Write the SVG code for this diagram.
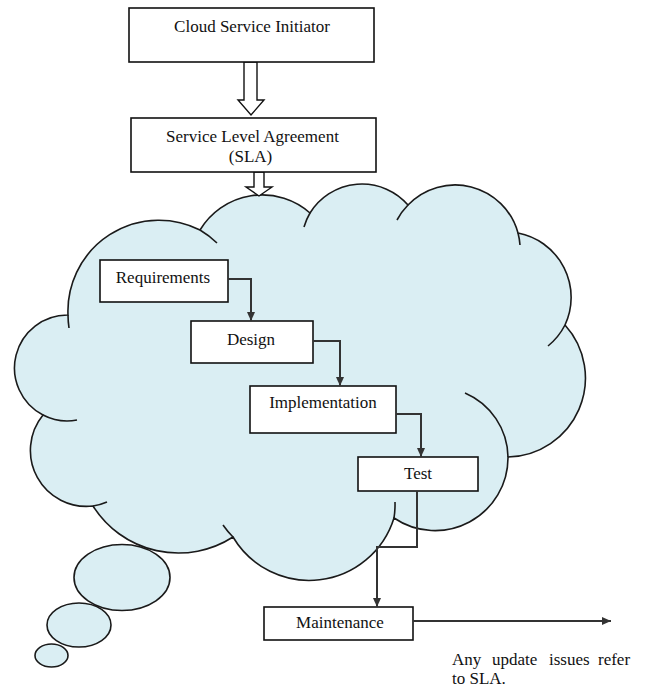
<svg xmlns="http://www.w3.org/2000/svg" width="645" height="688" viewBox="0 0 645 688">
  <style>
    .box { fill: #ffffff; stroke: #111111; stroke-width: 1.6; }
    .block { fill: #ffffff; stroke: #111111; stroke-width: 1.4; stroke-linejoin: miter; }
    .cloud { fill: #DAEEF3; stroke: #1a1a1a; stroke-width: 1.6; }
    .tail { fill: none; stroke: #1a1a1a; stroke-width: 1.6; }
    .label { font-family: "Liberation Serif", "Times New Roman", serif; font-size: 17px; fill: #111111; text-anchor: middle; }
    .note { font-family: "Liberation Serif", "Times New Roman", serif; font-size: 17px; fill: #111111; }
    .conn { fill: none; stroke: #333333; stroke-width: 2; }
  </style>
  <defs>
    <marker id="arrow" markerUnits="userSpaceOnUse" markerWidth="10" markerHeight="10" refX="9" refY="5" orient="auto">
      <path d="M0,1 L9,5 L0,9 z" fill="#333333"/>
    </marker>
  </defs>

  <!-- cloud body -->
  <g id="cloud">
    <path class="cloud" d="M43,415 A53,53 0 0 1 68,315 A91,91 0 0 1 200,230 A72.5,72.5 0 0 1 310,213 A61,61 0 0 1 408,205 A65.2,65.2 0 0 1 518,233 A65.5,65.5 0 0 1 565,325 A79,79 0 0 1 508,457 A73,73 0 0 1 394,518 A88.7,88.7 0 0 1 233,537 A101,101 0 0 1 93,506 A56,56 0 0 1 43,415 Z"/>
    <path class="tail" d="M68,315 A91,91 0 0 0 69,328"/>
    <path class="tail" d="M200,230 A91,91 0 0 1 217,243"/>
    <path class="tail" d="M310,213 A61,61 0 0 0 304,227"/>
    <path class="tail" d="M408,205 A65.2,65.2 0 0 0 397,220"/>
    <path class="tail" d="M518,233 A65.2,65.2 0 0 1 520,245"/>
    <path class="tail" d="M565,325 A65.5,65.5 0 0 1 548,346"/>
    <path class="tail" d="M508,457 A71,71 0 0 0 465,393"/>
    <path class="tail" d="M394,518 A88.7,88.7 0 0 0 395,502"/>
    <path class="tail" d="M233,537 A88.7,88.7 0 0 1 223,525"/>
    <path class="tail" d="M93,506 A56,56 0 0 0 107,502"/>
    <path class="tail" d="M43,415 A53,53 0 0 0 77,420"/>
    <ellipse class="cloud" cx="122" cy="577.5" rx="48" ry="33"/>
    <ellipse class="cloud" cx="79" cy="625" rx="32" ry="22"/>
    <ellipse class="cloud" cx="51.5" cy="655.5" rx="16.5" ry="11.5"/>
  </g>

  <!-- hollow block arrows -->
  <g id="block-arrows">
    <polygon class="block" points="244,62 257,62 257,100 264,100 251,115 238,100 244,100"/>
    <polygon class="block" points="254,172 264,172 264,187 272,187 259,196 246,187 254,187"/>
  </g>

  <g id="initiator">
    <rect class="box" x="129" y="8" width="245" height="54"/>
    <text class="label" x="252" y="32">Cloud Service Initiator</text>
  </g>

  <g id="sla">
    <rect class="box" x="131" y="118" width="245" height="54"/>
    <text class="label" x="252.5" y="142">Service Level Agreement</text>
    <text class="label" x="250.5" y="162">(SLA)</text>
  </g>

  <g id="requirements">
    <rect class="box" x="100" y="260" width="128" height="42"/>
    <text class="label" x="163" y="283">Requirements</text>
  </g>

  <g id="design">
    <rect class="box" x="191" y="321" width="122" height="42"/>
    <text class="label" x="251" y="345">Design</text>
  </g>

  <g id="implementation">
    <rect class="box" x="250" y="386" width="146" height="47"/>
    <text class="label" x="323" y="408">Implementation</text>
  </g>

  <g id="test">
    <rect class="box" x="358" y="457" width="120" height="34"/>
    <text class="label" x="418" y="479">Test</text>
  </g>

  <g id="maintenance">
    <rect class="box" x="264" y="607" width="149" height="33"/>
    <text class="label" x="340" y="628">Maintenance</text>
  </g>

  <g id="connectors">
    <path class="conn" d="M228,279 H251 V321" marker-end="url(#arrow)"/>
    <path class="conn" d="M313,341 H340 V386" marker-end="url(#arrow)"/>
    <path class="conn" d="M396,414 H421 V457" marker-end="url(#arrow)"/>
    <path class="conn" d="M417,491 V547 H377 V607" marker-end="url(#arrow)"/>
    <path class="conn" d="M413,621 H611" marker-end="url(#arrow)"/>
  </g>

  <g id="note">
    <text class="note" y="665"><tspan x="452">Any</tspan><tspan x="492">update</tspan><tspan x="549">issues</tspan><tspan x="598">refer</tspan></text>
    <text class="note" x="452" y="684">to SLA.</text>
  </g>
</svg>
